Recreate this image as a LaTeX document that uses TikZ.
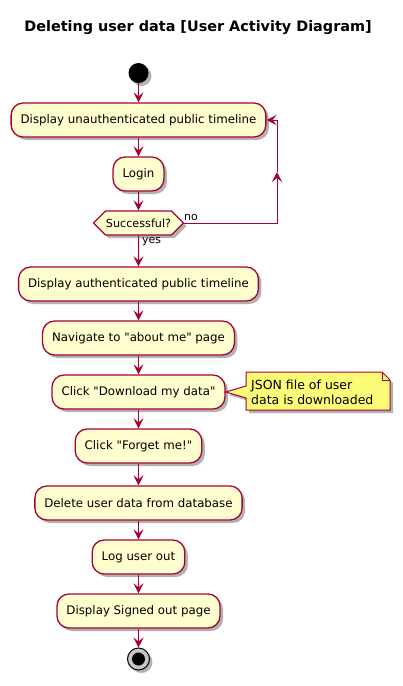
\documentclass[tikz,border=0pt]{standalone}
\usepackage{fontspec}
\setmainfont{DejaVu Sans}[Ligatures=TeXOff]
\usetikzlibrary{shapes.symbols,shadows,arrows.meta}
\definecolor{pborder}{HTML}{A80036}
\definecolor{pfill}{HTML}{FEFECE}
\definecolor{nfill}{HTML}{FBFB77}
\begin{document}
\begin{tikzpicture}[x=1pt,y=-1pt,
  shad/.style={drop shadow={shadow xshift=3pt,shadow yshift=-3pt,opacity=0.3,fill=black}},
  act/.style={draw=pborder,line width=1.3pt,fill=pfill,rounded corners=12pt,
    minimum height=34pt,inner xsep=9.5pt,font=\fontsize{11.8}{14}\selectfont,shad},
  arr/.style={draw=pborder,line width=1pt,-{Stealth[length=10pt,width=10pt,inset=4pt]}},
  lbl/.style={font=\fontsize{11}{13}\selectfont,inner sep=0pt}]
\useasboundingbox (0,0) rectangle (402,686);
\node[font=\bfseries\fontsize{14.4}{17}\selectfont] (title) at (198,28) {Deleting user data [User Activity Diagram]};
\node[circle,fill=black,minimum size=20pt,inner sep=0pt,shad] (start) at (138.5,73) {};
\node[act] (a1) at (138.5,120) {Display unauthenticated public timeline};
\node[act] (a2) at (138.5,174) {Login};
\node[signal,signal to=west and east,signal pointer angle=90,draw=pborder,line width=1.3pt,
  fill=pfill,minimum width=90pt,minimum height=24pt,inner sep=0pt,
  font=\fontsize{11.2}{13}\selectfont,shad] (d1) at (138.5,223) {Successful?};
\node[act] (a3) at (138.5,284) {Display authenticated public timeline};
\node[act] (a4) at (138.5,338) {Navigate to "about me" page};
\node[act] (a5) at (138.5,392) {Click "Download my data"};
\node[act] (a6) at (138.5,446) {Click "Forget me!"};
\node[act] (a7) at (138.5,503) {Delete user data from database};
\node[act] (a8) at (138.5,557) {Log user out};
\node[act] (a9) at (138.5,611) {Display Signed out page};
\node[circle,draw=black,line width=1pt,fill=gray!45,minimum size=22pt,inner sep=0pt,shad] (end) at (138.5,659) {};
\node[circle,fill=black,minimum size=13pt,inner sep=0pt] (endin) at (end) {};
% note
\coordinate (n1) at (246,372);
\path[fill=nfill,draw=pborder,line width=1pt,shad]
  (n1) -- (382,372) -- (390,380) -- (390,410) -- (246,410) -- (246,398) -- (a5.east) -- (246,386) -- cycle;
\draw[pborder,line width=1pt] (382,372) -- (382,380) -- (390,380);
\node[anchor=west,align=left,inner sep=0pt,font=\fontsize{12.5}{15}\selectfont] (note) at (251,392) {JSON file of user\\data is downloaded};
% arrows
\draw[arr] (start) -- (a1);
\draw[arr] (a1) -- (a2);
\draw[arr] (a2) -- (d1);
\draw[arr] (d1) -- (a3);
\draw[arr] (a3) -- (a4);
\draw[arr] (a4) -- (a5);
\draw[arr] (a5) -- (a6);
\draw[arr] (a6) -- (a7);
\draw[arr] (a7) -- (a8);
\draw[arr] (a8) -- (a9);
\draw[arr] (a9) -- (end);
\coordinate (l1) at (277,223);
\coordinate (l2) at (277,172);
\coordinate (l3) at (277,120);
\draw[arr] (d1.east) -- (l1) -- (l2);
\draw[arr] (l2) -- (l3) -- (a1.east);
\node[lbl,anchor=south west] (no) at (184,221) {no};
\node[lbl,anchor=west] (yes) at (142,242) {yes};
\end{tikzpicture}
\end{document}
